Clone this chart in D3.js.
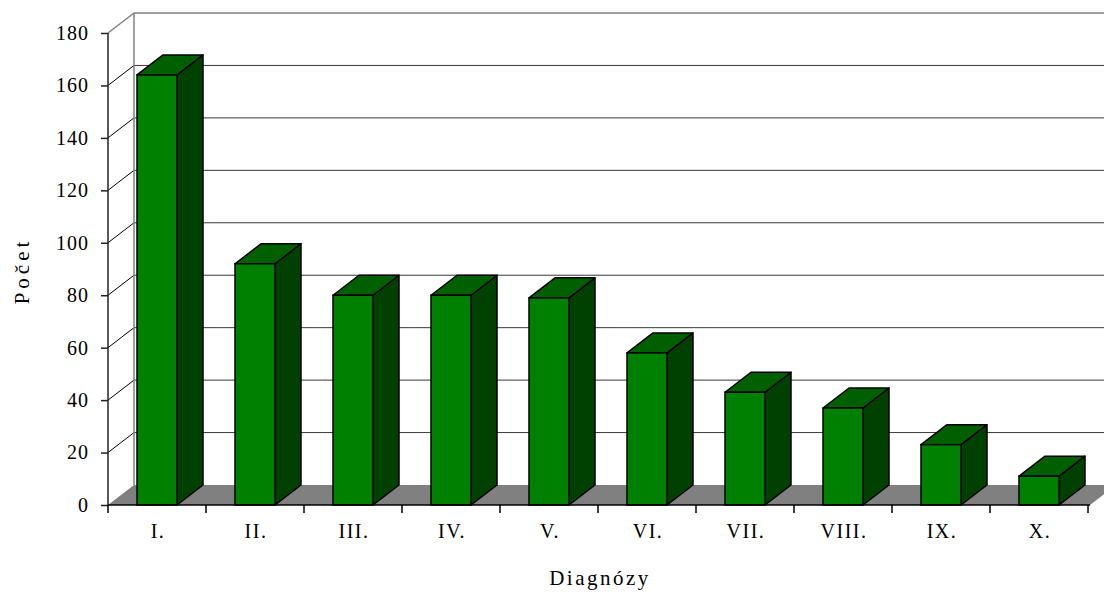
<!DOCTYPE html>
<html>
<head>
<meta charset="utf-8">
<script src="https://cdn.jsdelivr.net/npm/d3@7"></script>
<style>
body { margin: 0; background: #fff; }
text { font-family: "Liberation Serif", "Times New Roman", serif; fill: #000; }
</style>
</head>
<body>
<div id="chart"></div>
<script>
// data
var categories = ["I.", "II.", "III.", "IV.", "V.", "VI.", "VII.", "VIII.", "IX.", "X."];
var counts = [164, 92, 80, 80, 79, 58, 43, 37, 23, 11];
var yTicks = [0, 20, 40, 60, 80, 100, 120, 140, 160, 180];

var width = 1104, height = 592;
var plotL = 108, plotR = 1088, plotB = 505, plotT = 33;
var dx = 26, dy = 20; // depth offset of the 3d box

var svg = d3.select("#chart").append("svg")
	.attr("width", width)
	.attr("height", height);

var x = d3.scaleBand().domain(categories).range([plotL, plotR]).padding(0);
var y = d3.scaleLinear().domain([0, 180]).range([plotB, plotT]);
var barW = 40;

// back wall gridlines + side wall diagonals
var grid = svg.append("g");
yTicks.filter(function (d) { return d > 0; }).forEach(function (v) {
	var isTop = v == 180;
	grid.append("line")
		.attr("x1", plotL + dx).attr("y1", y(v) - dy)
		.attr("x2", width).attr("y2", y(v) - dy)
		.style("stroke", isTop ? "#808080" : "#3a3a3a")
		.style("stroke-width", isTop ? 1.5 : 1);
	grid.append("line")
		.attr("x1", plotL).attr("y1", y(v))
		.attr("x2", plotL + dx).attr("y2", y(v) - dy)
		.style("stroke", isTop ? "#808080" : "#000")
		.style("stroke-width", isTop ? 1.5 : 1);
});
// wall edge
grid.append("line")
	.attr("x1", plotL + dx).attr("y1", y(180) - dy)
	.attr("x2", plotL + dx).attr("y2", y(0) - dy)
	.style("stroke", "#808080").style("stroke-width", 1.5);

// floor
svg.append("path")
	.attr("d", "M" + plotL + "," + y(0) + "L" + (plotR + 2) + "," + y(0) +
		"L" + (plotR + 2 + dx) + "," + (y(0) - dy) + "L" + (plotL + dx) + "," + (y(0) - dy) + "Z")
	.style("fill", "#808080");

// bars
var bars = svg.selectAll(".bar")
	.data(categories.map(function (c, i) { return { cat: c, val: counts[i] }; }))
	.enter().append("g")
	.attr("class", "bar");

function bx(d) { return x(d.cat) + (x.bandwidth() - barW) / 2; }

bars.append("path") // side
	.attr("d", function (d) {
		var x0 = bx(d) + barW, yt = y(d.val), yb = y(0);
		return "M" + x0 + "," + yb + "L" + x0 + "," + yt + "L" + (x0 + dx) + "," + (yt - dy) +
			"L" + (x0 + dx) + "," + (yb - dy) + "Z";
	})
	.style("fill", "#004000").style("stroke", "#000").style("stroke-width", 1.5).style("stroke-linejoin", "round");

bars.append("path") // top
	.attr("d", function (d) {
		var x0 = bx(d), yt = y(d.val);
		return "M" + x0 + "," + yt + "L" + (x0 + barW) + "," + yt + "L" + (x0 + barW + dx) + "," + (yt - dy) +
			"L" + (x0 + dx) + "," + (yt - dy) + "Z";
	})
	.style("fill", "#006000").style("stroke", "#000").style("stroke-width", 1.5).style("stroke-linejoin", "round");

bars.append("rect") // front
	.attr("x", bx)
	.attr("y", function (d) { return y(d.val); })
	.attr("width", barW)
	.attr("height", function (d) { return y(0) - y(d.val); })
	.style("fill", "#008000").style("stroke", "#000").style("stroke-width", 1.5);

// y axis
var yAxis = svg.append("g")
	.attr("transform", "translate(" + plotL + ",0)")
	.call(d3.axisLeft(y).tickValues(yTicks).tickSize(7).tickPadding(12));
yAxis.select(".domain").attr("d", "M0," + y(180) + "V" + y(0)).style("stroke", "#222").style("stroke-width", 1.5);
yAxis.selectAll(".tick line").style("stroke", "#222").style("stroke-width", 1.5);
yAxis.selectAll("text")
	.style("font-size", "20px").style("font-family", "Liberation Serif")
	.style("letter-spacing", "1px").attr("fill", "#000");

// x axis: ticks at category boundaries, labels at centers
var xi = d3.scaleLinear().domain([0, categories.length]).range([plotL, plotR]);
var xAxis = svg.append("g").attr("transform", "translate(0," + plotB + ")");
xAxis.append("line")
	.attr("x1", plotL).attr("x2", plotR + 2)
	.style("stroke", "#000").style("stroke-width", 1.5);
xAxis.selectAll(".xt")
	.data(d3.range(categories.length + 1))
	.enter().append("line")
	.attr("class", "xt")
	.attr("x1", function (d) { return xi(d); }).attr("x2", function (d) { return xi(d); })
	.attr("y1", 0).attr("y2", 8)
	.style("stroke", "#000").style("stroke-width", 1.5);
xAxis.selectAll(".xl")
	.data(categories)
	.enter().append("text")
	.attr("class", "xl")
	.attr("x", function (d) { return x(d) + x.bandwidth() / 2 + 1; })
	.attr("y", 33)
	.attr("text-anchor", "middle")
	.style("font-size", "20px")
	.style("letter-spacing", "1.5px")
	.text(function (d) { return d; });

// titles
svg.append("text")
	.attr("transform", "translate(29,271) rotate(-90)")
	.attr("text-anchor", "middle")
	.style("font-size", "21px")
	.style("letter-spacing", "4px")
	.text("Počet");

svg.append("text")
	.attr("x", 600).attr("y", 585)
	.attr("text-anchor", "middle")
	.style("font-size", "21px")
	.style("letter-spacing", "2.5px")
	.text("Diagnózy");
</script>
</body>
</html>
